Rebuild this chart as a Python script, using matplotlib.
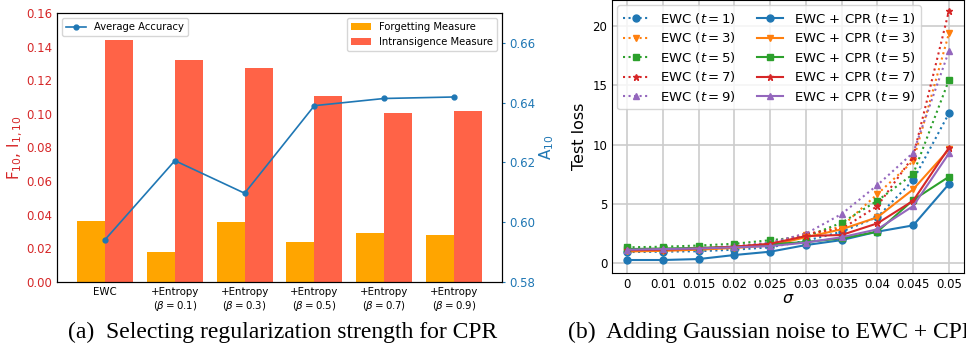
import numpy as np
import matplotlib.pyplot as plt

# (a) regularization strength for CPR
methods = ['EWC', '+Entropy\n($\\beta=0.1$)', '+Entropy\n($\\beta=0.3$)',
           '+Entropy\n($\\beta=0.5$)', '+Entropy\n($\\beta=0.7$)', '+Entropy\n($\\beta=0.9$)']
forgetting = [0.0365, 0.018, 0.0355, 0.0235, 0.029, 0.028]
intransigence = [0.144, 0.132, 0.127, 0.1105, 0.1005, 0.1015]
accuracy = [0.5942, 0.6206, 0.6097, 0.6390, 0.6414, 0.6419]

# (b) gaussian noise
sigmas = ['0', '0.01', '0.015', '0.02', '0.025', '0.03', '0.035', '0.04', '0.045', '0.05']
ts = [1, 3, 5, 7, 9]
ewc_loss = [
    [0.95, 0.98, 1.02, 1.15, 1.35, 1.90, 2.66, 3.90, 7.02, 12.65],
    [1.05, 1.10, 1.15, 1.30, 1.55, 2.40, 3.10, 5.84, 8.62, 19.40],
    [1.35, 1.40, 1.50, 1.65, 1.95, 2.25, 3.42, 5.28, 7.53, 15.45],
    [1.10, 1.15, 1.25, 1.40, 1.70, 2.50, 2.90, 4.83, 9.00, 21.30],
    [1.15, 1.20, 1.30, 1.45, 1.75, 2.50, 4.16, 6.60, 9.33, 17.90],
]
cpr_loss = [
    [0.28, 0.28, 0.36, 0.70, 0.98, 1.54, 1.96, 2.67, 3.20, 6.69],
    [1.00, 1.05, 1.15, 1.30, 1.50, 2.20, 2.87, 3.88, 6.24, 9.60],
    [1.20, 1.25, 1.30, 1.40, 1.60, 1.80, 2.10, 2.67, 5.34, 7.30],
    [1.10, 1.15, 1.25, 1.40, 1.65, 2.30, 2.39, 3.37, 5.28, 9.75],
    [1.15, 1.20, 1.25, 1.35, 1.45, 1.75, 2.20, 2.87, 4.83, 9.27],
]

colors = ['tab:blue', 'tab:orange', 'tab:green', 'tab:red', 'tab:purple']
markers = ['o', 'v', 's', '*', '^']

W, H = 966, 347
fig = plt.figure(figsize=(W/100, H/100), dpi=100)

# ---- left panel ----
ax = fig.add_axes([57/W, 1-282/H, 445/W, 269/H])
x = np.arange(len(methods))
ax.bar(x-0.2, forgetting, 0.4, color='#FFA500', label='Forgetting Measure')
ax.bar(x+0.2, intransigence, 0.4, color='#FF6347', label='Intransigence Measure')
ax.set_ylim(0, 0.16)
ax.set_xticks(x)
ax.set_xticklabels(methods, fontsize=7.4)
ax.tick_params(axis='y', colors='tab:red', labelsize=8.5, length=0)
ax.tick_params(axis='x', length=0)
ax.set_ylabel('F$_{10}$, I$_{1,10}$', color='tab:red', fontsize=11, labelpad=1)
ax.legend(loc='upper right', fontsize=7.2)

ax2 = ax.twinx()
ax2.plot(x, accuracy, color='tab:blue', marker='o', markersize=3.5, linewidth=1.2,
         label='Average Accuracy')
ax2.set_ylim(0.58, 0.67)
ax2.set_yticks([0.58, 0.60, 0.62, 0.64, 0.66])
ax2.tick_params(axis='y', colors='tab:blue', labelsize=8.5, length=2)
ax2.set_ylabel('A$_{10}$', color='tab:blue', fontsize=11, labelpad=1)
ax2.legend(loc='upper left', fontsize=7.2)

# ---- right panel ----
bx = fig.add_axes([612/W, 1-272.7/H, 352/W, 272.7/H])
xs = np.arange(len(sigmas))
for i, t in enumerate(ts):
    bx.plot(xs, ewc_loss[i], linestyle=':', color=colors[i], marker=markers[i],
            markersize=5, linewidth=1.5, label='EWC ($t=%d$)' % t)
for i, t in enumerate(ts):
    bx.plot(xs, cpr_loss[i], linestyle='-', color=colors[i], marker=markers[i],
            markersize=5, linewidth=1.5, label='EWC + CPR ($t=%d$)' % t)
bx.set_xticks(xs)
bx.set_xticklabels(sigmas)
bx.set_xlim(-0.42, 9.42)
bx.set_ylim(-0.79, 22.2)
bx.set_yticks([0, 5, 10, 15, 20])
bx.tick_params(labelsize=8.5, length=0)
bx.grid(True, color='#cccccc', linewidth=1.2)
bx.set_xlabel('$\\sigma$', fontsize=11.5, labelpad=0)
bx.set_ylabel('Test loss', fontsize=11.5)
bx.legend(loc='upper left', ncol=2, fontsize=9.5, labelspacing=0.35,
          columnspacing=1.6, borderaxespad=0.4)

# captions
fig.text(68/W, 1-338/H, '(a)  Selecting regularization strength for CPR',
         family='Liberation Serif', fontsize=17, va='baseline', ha='left')
fig.text(568/W, 1-338/H, '(b)  Adding Gaussian noise to EWC + CPR',
         family='Liberation Serif', fontsize=17, va='baseline', ha='left')

fig.savefig('out.png', dpi=100)
